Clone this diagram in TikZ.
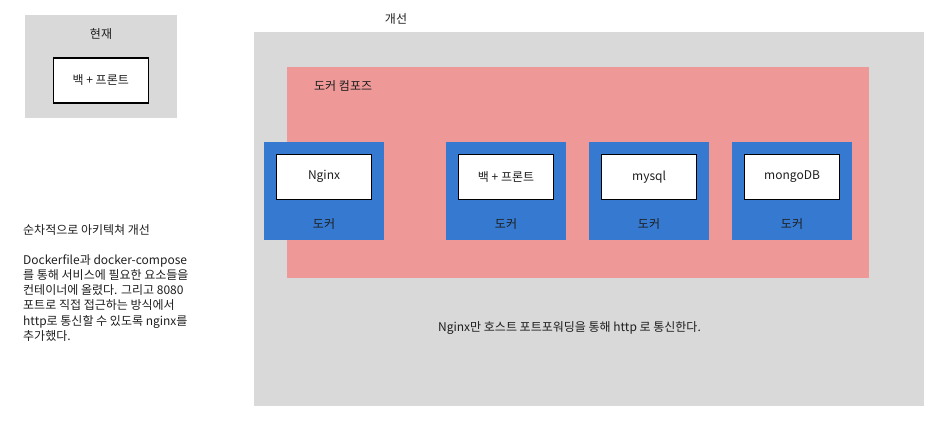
\documentclass[tikz,border=0pt]{standalone}
\usepackage{fontspec}
\setmainfont{Noto Sans CJK KR}
\usetikzlibrary{positioning}

\definecolor{areagray}{RGB}{217,217,217}
\definecolor{composepink}{RGB}{238,153,152}
\definecolor{dockerblue}{RGB}{53,122,208}
\definecolor{textdark}{RGB}{30,30,30}

\tikzset{
  area/.style={fill=areagray, draw=none, anchor=north west, inner sep=0pt},
  compose/.style={fill=composepink, draw=none, anchor=north west, inner sep=0pt},
  docker/.style={fill=dockerblue, draw=none, anchor=north west, inner sep=0pt,
    minimum width=120pt, minimum height=98pt},
  service/.style={fill=white, draw=black, line width=1.3pt, anchor=north west,
    inner sep=0pt, minimum width=95pt, minimum height=45pt},
  txt/.style={text=textdark, inner sep=0pt}
}

\begin{document}
\begin{tikzpicture}[x=1pt, y=-1pt, font=\fontsize{12}{15.2}\selectfont]
\useasboundingbox (0,0) rectangle (936,420);

% current
\node[area, minimum width=152pt, minimum height=103pt] (now) at (25,15) {};
\node[txt] (nowlabel) at (101,34) {현재};
\node[service] (nowapp) at (52.6,57.3) {};
\node[txt] (nowapptext) at (nowapp.center) {백 + 프론트};

% improved
\node[txt] (newlabel) at (396,19) {개선};
\node[area, minimum width=670pt, minimum height=374pt] (new) at (254,32) {};
\node[compose, minimum width=582pt, minimum height=211pt] (comp) at (287,67) {};
\node[txt, anchor=west] (complabel) at (314,86) {도커 컴포즈};

% containers
\foreach \x/\name/\label in {264/nginx/Nginx, 446/app/백 + 프론트, 589/mysql/mysql, 732/mongo/mongoDB}
{
  \node[docker] (\name) at (\x,142) {};
  \node[service] (\name box) at (\x+11.9,153.6) {};
  \node[txt] (\name text) at (\name box.center) {\label};
  \node[txt] (\name docker) at (\x+60,224) {도커};
}

\node[txt] (note) at (569.5,328) {Nginx만 호스트 포트포워딩을 통해 http 로 통신한다.};

% description
\node[txt, anchor=north west, align=left] (desc) at (23,224) {순차적으로 아키텍쳐 개선\\[15pt]
Dockerfile과 docker-compose\\
를 통해 서비스에 필요한 요소들을\\
컨테이너에 올렸다. 그리고 8080\\
포트로 직접 접근하는 방식에서\\
http로 통신할 수 있도록 nginx를\\
추가했다.};
\end{tikzpicture}
\end{document}
